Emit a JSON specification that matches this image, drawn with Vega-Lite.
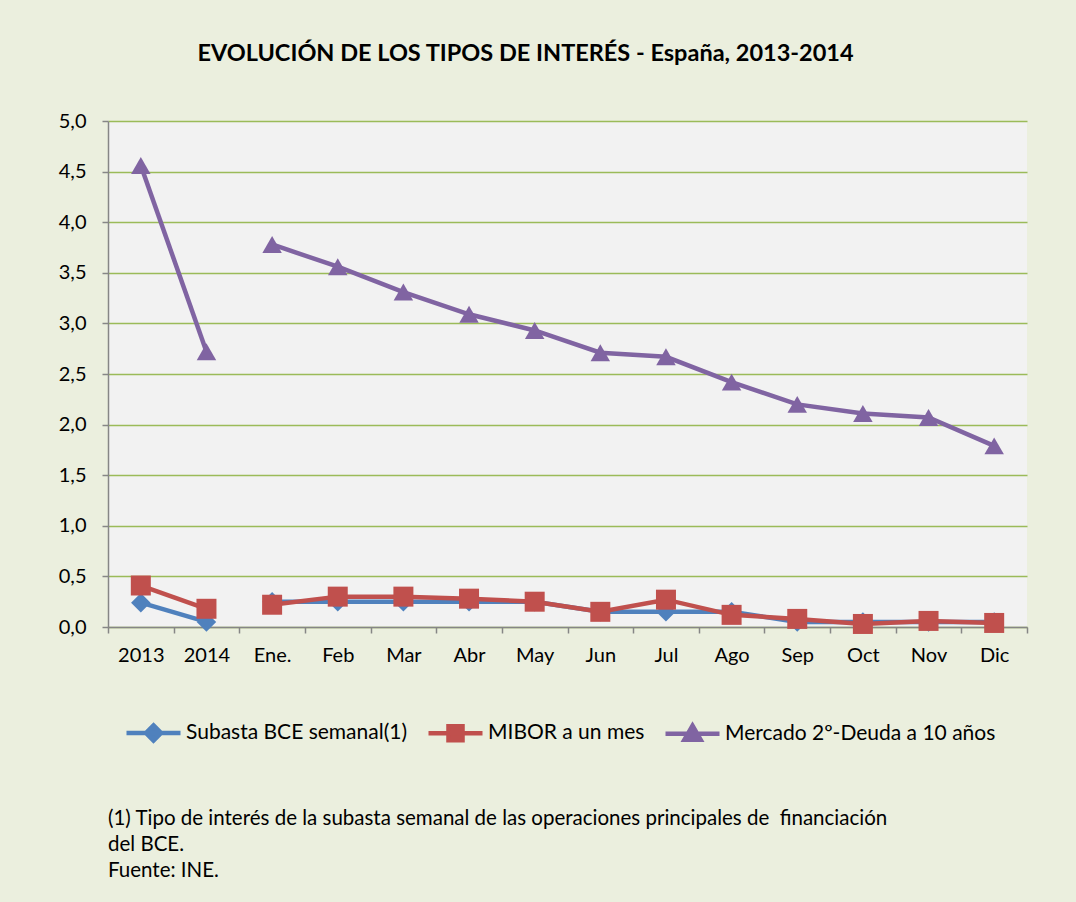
{
  "$schema": "https://vega.github.io/schema/vega-lite/v6.json",
  "background": "#EBEFDE",
  "padding": {"left": 58, "top": 41, "right": 50, "bottom": 40},
  "config": {
    "locale": {"number": {"decimal": ",", "thousands": ".", "grouping": [3], "currency": ["", " €"]}},
    "font": "Lato",
    "view": {"stroke": null, "fill": "#F2F2F2"}
  },
  "title": {
    "text": ["(1) Tipo de interés de la subasta semanal de las operaciones principales de \u00a0financiación", "del BCE.", "Fuente: INE."],
    "orient": "bottom",
    "anchor": "start",
    "frame": "group",
    "font": "Lato",
    "fontSize": 20.5,
    "fontWeight": "normal",
    "lineHeight": 26,
    "color": "#000000",
    "offset": 59
  },
  "vconcat": [
    {
      "width": 919,
      "height": 506,
      "title": {
        "text": "EVOLUCIÓN DE LOS TIPOS DE INTERÉS - España, 2013-2014",
        "anchor": "middle",
        "font": "Lato",
        "fontSize": 23.5,
        "fontWeight": "bold",
        "color": "#000000",
        "offset": 46,
        "dx": -42
      },
      "data": {"values": [
        {"periodo": "2013", "segmento": "anual", "serie": "Subasta BCE semanal(1)", "valor": 0.24},
        {"periodo": "2014", "segmento": "anual", "serie": "Subasta BCE semanal(1)", "valor": 0.05},
        {"periodo": "Ene.", "segmento": "mensual", "serie": "Subasta BCE semanal(1)", "valor": 0.25},
        {"periodo": "Feb", "segmento": "mensual", "serie": "Subasta BCE semanal(1)", "valor": 0.25},
        {"periodo": "Mar", "segmento": "mensual", "serie": "Subasta BCE semanal(1)", "valor": 0.25},
        {"periodo": "Abr", "segmento": "mensual", "serie": "Subasta BCE semanal(1)", "valor": 0.25},
        {"periodo": "May", "segmento": "mensual", "serie": "Subasta BCE semanal(1)", "valor": 0.25},
        {"periodo": "Jun", "segmento": "mensual", "serie": "Subasta BCE semanal(1)", "valor": 0.15},
        {"periodo": "Jul", "segmento": "mensual", "serie": "Subasta BCE semanal(1)", "valor": 0.15},
        {"periodo": "Ago", "segmento": "mensual", "serie": "Subasta BCE semanal(1)", "valor": 0.15},
        {"periodo": "Sep", "segmento": "mensual", "serie": "Subasta BCE semanal(1)", "valor": 0.05},
        {"periodo": "Oct", "segmento": "mensual", "serie": "Subasta BCE semanal(1)", "valor": 0.05},
        {"periodo": "Nov", "segmento": "mensual", "serie": "Subasta BCE semanal(1)", "valor": 0.05},
        {"periodo": "Dic", "segmento": "mensual", "serie": "Subasta BCE semanal(1)", "valor": 0.05},
        {"periodo": "2013", "segmento": "anual", "serie": "MIBOR a un mes", "valor": 0.41},
        {"periodo": "2014", "segmento": "anual", "serie": "MIBOR a un mes", "valor": 0.18},
        {"periodo": "Ene.", "segmento": "mensual", "serie": "MIBOR a un mes", "valor": 0.22},
        {"periodo": "Feb", "segmento": "mensual", "serie": "MIBOR a un mes", "valor": 0.30},
        {"periodo": "Mar", "segmento": "mensual", "serie": "MIBOR a un mes", "valor": 0.30},
        {"periodo": "Abr", "segmento": "mensual", "serie": "MIBOR a un mes", "valor": 0.28},
        {"periodo": "May", "segmento": "mensual", "serie": "MIBOR a un mes", "valor": 0.25},
        {"periodo": "Jun", "segmento": "mensual", "serie": "MIBOR a un mes", "valor": 0.15},
        {"periodo": "Jul", "segmento": "mensual", "serie": "MIBOR a un mes", "valor": 0.27},
        {"periodo": "Ago", "segmento": "mensual", "serie": "MIBOR a un mes", "valor": 0.12},
        {"periodo": "Sep", "segmento": "mensual", "serie": "MIBOR a un mes", "valor": 0.08},
        {"periodo": "Oct", "segmento": "mensual", "serie": "MIBOR a un mes", "valor": 0.03},
        {"periodo": "Nov", "segmento": "mensual", "serie": "MIBOR a un mes", "valor": 0.06},
        {"periodo": "Dic", "segmento": "mensual", "serie": "MIBOR a un mes", "valor": 0.04},
        {"periodo": "2013", "segmento": "anual", "serie": "Mercado 2º-Deuda a 10 años", "valor": 4.56},
        {"periodo": "2014", "segmento": "anual", "serie": "Mercado 2º-Deuda a 10 años", "valor": 2.72},
        {"periodo": "Ene.", "segmento": "mensual", "serie": "Mercado 2º-Deuda a 10 años", "valor": 3.78},
        {"periodo": "Feb", "segmento": "mensual", "serie": "Mercado 2º-Deuda a 10 años", "valor": 3.56},
        {"periodo": "Mar", "segmento": "mensual", "serie": "Mercado 2º-Deuda a 10 años", "valor": 3.31},
        {"periodo": "Abr", "segmento": "mensual", "serie": "Mercado 2º-Deuda a 10 años", "valor": 3.09},
        {"periodo": "May", "segmento": "mensual", "serie": "Mercado 2º-Deuda a 10 años", "valor": 2.93},
        {"periodo": "Jun", "segmento": "mensual", "serie": "Mercado 2º-Deuda a 10 años", "valor": 2.71},
        {"periodo": "Jul", "segmento": "mensual", "serie": "Mercado 2º-Deuda a 10 años", "valor": 2.67},
        {"periodo": "Ago", "segmento": "mensual", "serie": "Mercado 2º-Deuda a 10 años", "valor": 2.42},
        {"periodo": "Sep", "segmento": "mensual", "serie": "Mercado 2º-Deuda a 10 años", "valor": 2.20},
        {"periodo": "Oct", "segmento": "mensual", "serie": "Mercado 2º-Deuda a 10 años", "valor": 2.11},
        {"periodo": "Nov", "segmento": "mensual", "serie": "Mercado 2º-Deuda a 10 años", "valor": 2.07},
        {"periodo": "Dic", "segmento": "mensual", "serie": "Mercado 2º-Deuda a 10 años", "valor": 1.79}
      ]},
      "encoding": {
        "x": {
          "field": "periodo", "type": "ordinal",
          "sort": ["2013", "2014", "Ene.", "Feb", "Mar", "Abr", "May", "Jun", "Jul", "Ago", "Sep", "Oct", "Nov", "Dic"],
          "scale": {"type": "band", "paddingInner": 0, "paddingOuter": 0},
          "axis": {
            "title": null, "labelAngle": 0, "labelFont": "Lato", "labelFontSize": 20, "labelColor": "#000000",
            "tickBand": "extent", "tickSize": 6, "tickColor": "#868686", "domainColor": "#868686",
            "domainWidth": 1.5, "tickWidth": 1.5, "labelPadding": 12
          }
        },
        "y": {
          "field": "valor", "type": "quantitative",
          "scale": {"domain": [0, 5], "nice": false},
          "axis": {
            "title": null, "values": [0, 0.5, 1, 1.5, 2, 2.5, 3, 3.5, 4, 4.5, 5], "format": ".1f",
            "labelFont": "Lato", "labelFontSize": 20, "labelColor": "#000000", "labelPadding": 16,
            "tickSize": 6, "tickColor": "#868686", "domainColor": "#868686", "domainWidth": 1.5, "tickWidth": 1.5,
            "gridColor": "#9BBB59", "gridWidth": 1.5
          }
        },
        "color": {
          "field": "serie", "type": "nominal",
          "scale": {
            "domain": ["Subasta BCE semanal(1)", "MIBOR a un mes", "Mercado 2º-Deuda a 10 años"],
            "range": ["#4F81BD", "#C0504D", "#8064A2"]
          },
          "legend": {
            "title": null, "orient": "none", "direction": "horizontal", "legendX": 16, "legendY": 582,
            "labelFont": "Lato", "labelFontSize": 21, "labelColor": "#000000", "labelLimit": 0,
            "symbolSize": 2916, "labelOffset": 3, "columnPadding": 11, "padding": 0,
            "encode": {
              "symbols": {
                "enter": {
                  "shape": {"signal": "datum.value === 'Subasta BCE semanal(1)' ? 'M-1,0H1M0,-0.28L0.28,0L0,0.28L-0.28,0Z' : datum.value === 'MIBOR a un mes' ? 'M-1,0H1M-0.26,-0.26H0.26V0.26H-0.26Z' : 'M-1,0H1M0,-0.3L0.3,0.22H-0.3Z'"}
                },
                "update": {
                  "shape": {"signal": "datum.value === 'Subasta BCE semanal(1)' ? 'M-1,0H1M0,-0.28L0.28,0L0,0.28L-0.28,0Z' : datum.value === 'MIBOR a un mes' ? 'M-1,0H1M-0.26,-0.26H0.26V0.26H-0.26Z' : 'M-1,0H1M0,-0.3L0.3,0.22H-0.3Z'"},
                  "fill": {"signal": "scale('color', datum.value)"},
                  "stroke": {"signal": "scale('color', datum.value)"},
                  "strokeWidth": {"value": 4.5},
                  "size": {"value": 2916},
                  "opacity": {"value": 1},
                  "fillOpacity": {"value": 1}
                }
              }
            }
          }
        }
      },
      "layer": [
        {
          "mark": {"type": "line", "strokeWidth": 4.5},
          "encoding": {"detail": {"field": "segmento"}}
        },
        {
          "transform": [{"filter": "datum.serie === 'Subasta BCE semanal(1)'"}],
          "mark": {"type": "point", "shape": "diamond", "filled": true, "size": 380, "opacity": 1}
        },
        {
          "transform": [{"filter": "datum.serie === 'MIBOR a un mes'"}],
          "mark": {"type": "point", "shape": "square", "filled": true, "size": 400, "opacity": 1}
        },
        {
          "transform": [{"filter": "datum.serie === 'Mercado 2º-Deuda a 10 años'"}],
          "mark": {"type": "point", "shape": "triangle-up", "filled": true, "size": 380, "opacity": 1}
        }
      ]
    }
  ]
}
